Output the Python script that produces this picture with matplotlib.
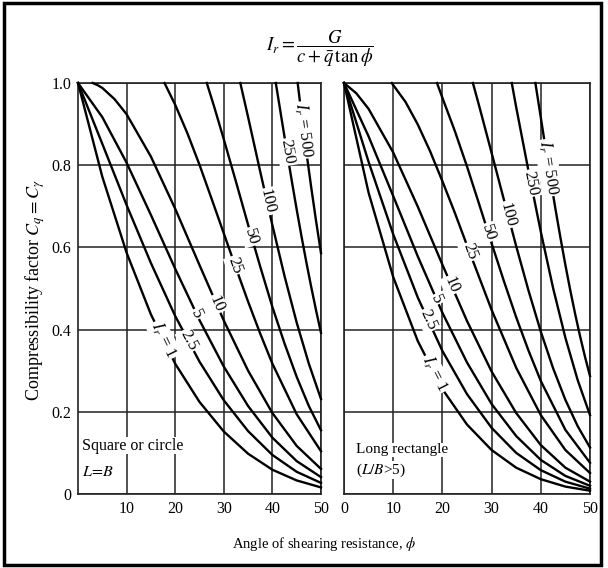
import numpy as np
import matplotlib
matplotlib.use("Agg")
import matplotlib.pyplot as plt
from matplotlib.patches import Rectangle

plt.rcParams['font.family'] = ['Liberation Serif', 'DejaVu Serif']
plt.rcParams['mathtext.fontset'] = 'stix'

# rigidity index of each curve, low to high
rigidity = ["1", "2.5", "5", "10", "25", "50", "100", "250", "500"]

phi_full = [0, 5, 10, 15, 20, 25, 30, 35, 40, 45, 50]

# --- square or circle footing (L = B) ---
sq_phi_1 = phi_full
sq_c_1 = [1.0, 0.772, 0.587, 0.437, 0.317, 0.224, 0.152, 0.098, 0.059, 0.033, 0.016]
sq_phi_2 = phi_full
sq_c_2 = [1.0, 0.852, 0.703, 0.562, 0.433, 0.322, 0.228, 0.153, 0.095, 0.054, 0.027]
sq_phi_5 = phi_full
sq_c_5 = [1.0, 0.917, 0.806, 0.679, 0.548, 0.423, 0.310, 0.214, 0.137, 0.080, 0.041]
sq_phi_10 = [3, 4, 5, 7.5, 10, 15, 20, 25, 30, 35, 40, 45, 50]
sq_c_10 = [1.0, 0.995, 0.988, 0.961, 0.924, 0.821, 0.694, 0.557, 0.422, 0.300, 0.197, 0.117, 0.061]
sq_phi_25 = [17.8, 20, 22.5, 25, 27.5, 30, 32.5, 35, 37.5, 40, 45, 50]
sq_c_25 = [1.0, 0.947, 0.878, 0.801, 0.718, 0.634, 0.550, 0.468, 0.390, 0.317, 0.194, 0.104]
sq_phi_50 = [26.5, 28, 30, 32.5, 35, 37.5, 40, 42.5, 45, 47.5, 50]
sq_c_50 = [1.0, 0.943, 0.863, 0.760, 0.655, 0.553, 0.455, 0.366, 0.285, 0.214, 0.155]
sq_phi_100 = [33.4, 35, 37.5, 40, 42.5, 45, 47.5, 50]
sq_c_100 = [1.0, 0.917, 0.784, 0.654, 0.530, 0.417, 0.317, 0.231]
sq_phi_250 = [40.7, 42, 43, 44, 45, 46, 47, 48, 49, 50]
sq_c_250 = [1.0, 0.905, 0.832, 0.761, 0.692, 0.626, 0.563, 0.503, 0.446, 0.392]
sq_phi_500 = [45.2, 46, 47, 48, 49, 50]
sq_c_500 = [1.0, 0.922, 0.831, 0.745, 0.663, 0.586]

# --- long rectangle (L/B > 5) ---
lr_phi_1 = phi_full
lr_c_1 = [1.0, 0.733, 0.528, 0.372, 0.255, 0.169, 0.107, 0.064, 0.036, 0.018, 0.008]
lr_phi_2 = phi_full
lr_c_2 = [1.0, 0.808, 0.632, 0.478, 0.348, 0.243, 0.161, 0.100, 0.058, 0.030, 0.013]
lr_phi_5 = phi_full
lr_c_5 = [1.0, 0.870, 0.725, 0.578, 0.441, 0.320, 0.219, 0.141, 0.083, 0.044, 0.020]
lr_phi_10 = [0, 2.5, 5, 10, 15, 20, 25, 30, 35, 40, 45, 50]
lr_c_10 = [1.0, 0.975, 0.937, 0.831, 0.699, 0.558, 0.421, 0.298, 0.197, 0.119, 0.064, 0.030]
lr_phi_25 = [9.7, 12.5, 15, 17.5, 20, 22.5, 25, 30, 35, 40, 45, 50]
lr_c_25 = [1.0, 0.954, 0.899, 0.834, 0.761, 0.685, 0.605, 0.448, 0.307, 0.192, 0.107, 0.051]
lr_phi_50 = [18.9, 20, 22.5, 25, 27.5, 30, 32.5, 35, 37.5, 40, 45, 50]
lr_c_50 = [1.0, 0.964, 0.884, 0.797, 0.704, 0.610, 0.518, 0.430, 0.349, 0.275, 0.156, 0.076]
lr_phi_100 = [26.2, 27.5, 30, 32.5, 35, 37.5, 40, 42.5, 45, 47.5, 50]
lr_c_100 = [1.0, 0.943, 0.830, 0.716, 0.603, 0.495, 0.395, 0.306, 0.229, 0.165, 0.113]
lr_phi_250 = [34.1, 35, 37.5, 40, 42.5, 45, 47.5, 50]
lr_c_250 = [1.0, 0.941, 0.786, 0.638, 0.501, 0.380, 0.277, 0.192]
lr_phi_500 = [38.9, 40, 41, 42, 43, 44, 45, 46, 47, 48, 49, 50]
lr_c_500 = [1.0, 0.916, 0.839, 0.764, 0.692, 0.623, 0.557, 0.495, 0.437, 0.383, 0.333, 0.287]

sq_curves = [(sq_phi_1, sq_c_1), (sq_phi_2, sq_c_2), (sq_phi_5, sq_c_5),
             (sq_phi_10, sq_c_10), (sq_phi_25, sq_c_25), (sq_phi_50, sq_c_50),
             (sq_phi_100, sq_c_100), (sq_phi_250, sq_c_250), (sq_phi_500, sq_c_500)]
lr_curves = [(lr_phi_1, lr_c_1), (lr_phi_2, lr_c_2), (lr_phi_5, lr_c_5),
             (lr_phi_10, lr_c_10), (lr_phi_25, lr_c_25), (lr_phi_50, lr_c_50),
             (lr_phi_100, lr_c_100), (lr_phi_250, lr_c_250), (lr_phi_500, lr_c_500)]

# angle at which each curve label sits
sq_label_at = [17.6, 22.7, 24.4, 28.5, 32.3, 35.7, 38.9, 43.0, 46.4]
lr_label_at = [18.4, 17.1, 18.8, 21.8, 25.5, 29.3, 33.3, 38.0, 41.6]

y_ticks = [0, 0.2, 0.4, 0.6, 0.8, 1.0]
y_ticklabels = ["0", "0.2", "0.4", "0.6", "0.8", "1.0"]


def label_curve(ax, phi, c, text, at):
    # put the label on the curve, turned along its local slope
    y = np.interp(at, phi, c)
    p1 = ax.transData.transform((at - 0.4, np.interp(at - 0.4, phi, c)))
    p2 = ax.transData.transform((at + 0.4, np.interp(at + 0.4, phi, c)))
    ang = np.degrees(np.arctan2(p2[1] - p1[1], p2[0] - p1[0]))
    ax.text(at, y, text, rotation=ang, rotation_mode='anchor', ha='center',
            va='center', fontsize=12, zorder=5,
            bbox=dict(facecolor='white', edgecolor='none', pad=1.0))


def setup(ax, xticks):
    ax.set_xlim(0, 50)
    ax.set_ylim(0, 1.0)
    ax.set_xticks(xticks)
    ax.set_yticks(y_ticks)
    ax.grid(True, color='#222222', linewidth=1.1)
    ax.set_axisbelow(True)
    ax.tick_params(length=0, labelsize=11.5, pad=5)
    for s in ax.spines.values():
        s.set_linewidth(1.2)
        s.set_color('#222222')


fig = plt.figure(figsize=(6.08, 5.68), dpi=100)
ax1 = fig.add_axes([78 / 608, 74 / 568, 243 / 608, 411 / 568])
ax2 = fig.add_axes([344 / 608, 74 / 568, 246 / 608, 411 / 568])

setup(ax1, [10, 20, 30, 40, 50])
ax1.set_yticklabels(y_ticklabels)
setup(ax2, [0, 10, 20, 30, 40, 50])
ax2.set_yticklabels([])

for ax, curves, spots in [(ax1, sq_curves, sq_label_at), (ax2, lr_curves, lr_label_at)]:
    for (phi, c), name, at in zip(curves, rigidity, spots):
        ax.plot(phi, c, color='black', linewidth=1.7, zorder=3, clip_on=False)
        text = r"$I_r$ = " + name if name in ("1", "500") else name
        label_curve(ax, phi, c, text, at)

box = dict(facecolor='white', edgecolor='none', pad=0.3)
ax1.text(0.8, 0.118, "Square or circle", fontsize=11.5, va='center', zorder=4, bbox=box)
ax1.text(0.8, 0.053, r"$L\!=\!B$", fontsize=11.5, va='center', zorder=4, bbox=box)
ax2.text(2.4, 0.108, "Long rectangle", fontsize=11, va='center', zorder=4, bbox=box)
ax2.text(2.4, 0.058, r"($L/B$>5)", fontsize=11, va='center', zorder=4, bbox=box)

fig.text(320 / 608, 1 - 49 / 568,
         r"$I_r = \dfrac{G}{c+\bar{q}\,\tan\phi}$", fontsize=13.5,
         ha='center', va='center')
fig.text(35 / 608, 1 - 290 / 568, r"Compressibility factor $C_q = C_\gamma$",
         rotation=90, fontsize=13, ha='center', va='center')
fig.text(324 / 608, 1 - 544 / 568, r"Angle of shearing resistance, $\phi$",
         fontsize=10.5, ha='center', va='center')

# frame round the whole figure
fig.patches.append(Rectangle((4 / 608, 3 / 568), 597 / 608, 562 / 568,
                             transform=fig.transFigure, fill=False,
                             edgecolor='black', linewidth=2.5))

fig.savefig("out.png", dpi=100)
